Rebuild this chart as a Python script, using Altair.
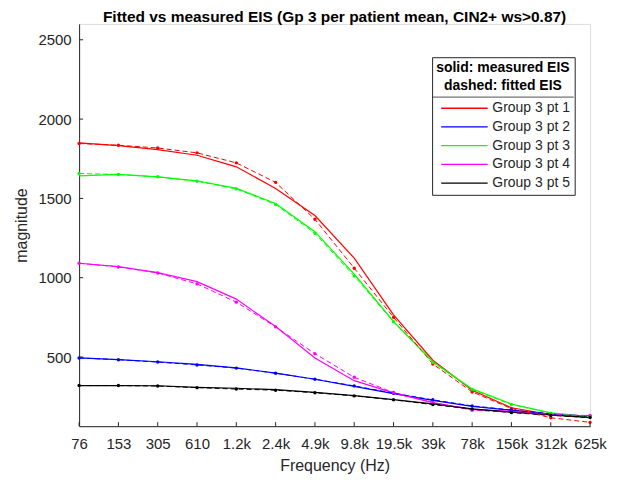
import altair as alt
import pandas as pd

freq_labels = ["76", "153", "305", "610", "1.2k", "2.4k", "4.9k", "9.8k",
               "19.5k", "39k", "78k", "156k", "312k", "625k"]
patients = ["Group 3 pt 1", "Group 3 pt 2", "Group 3 pt 3", "Group 3 pt 4", "Group 3 pt 5"]
colors = ["#FF0000", "#0000FF", "#00FF00", "#FF00FF", "#000000"]

measured = {
    "Group 3 pt 1": [1850, 1833, 1808, 1772, 1699, 1563, 1392, 1123, 766, 480, 290, 180, 137, 118],
    "Group 3 pt 2": [494, 483, 470, 453, 431, 399, 360, 315, 269, 227, 189, 164, 140, 125],
    "Group 3 pt 3": [1642, 1651, 1636, 1611, 1563, 1468, 1290, 1022, 724, 470, 299, 204, 148, 125],
    "Group 3 pt 4": [1091, 1070, 1032, 975, 865, 692, 494, 351, 274, 212, 168, 158, 138, 128],
    "Group 3 pt 5": [320, 320, 319, 309, 303, 294, 277, 257, 231, 204, 173, 152, 135, 120],
}
fitted = {
    "Group 3 pt 1": [1846, 1835, 1818, 1787, 1724, 1601, 1368, 1060, 750, 456, 280, 175, 117, 88],
    "Group 3 pt 2": [494, 483, 468, 450, 430, 398, 360, 318, 272, 230, 192, 166, 142, 126],
    "Group 3 pt 3": [1657, 1651, 1636, 1608, 1560, 1462, 1280, 1010, 722, 466, 296, 200, 146, 124],
    "Group 3 pt 4": [1091, 1068, 1030, 961, 846, 690, 521, 372, 276, 214, 165, 152, 136, 131],
    "Group 3 pt 5": [320, 320, 317, 307, 298, 291, 275, 255, 230, 200, 172, 150, 132, 118],
}
y_ticks = [500, 1000, 1500, 2000, 2500]

rows = []
for p in patients:
    for i, f in enumerate(freq_labels):
        rows.append({"freq": f, "idx": i, "patient": p, "kind": "measured", "value": measured[p][i]})
        rows.append({"freq": f, "idx": i, "patient": p, "kind": "fitted", "value": fitted[p][i]})
df = pd.DataFrame(rows)

W, H = 512.4, 403.4
FONT = "Liberation Sans"
AX = "#262626"

xscale = alt.Scale(type="point", padding=0, domain=freq_labels)

xenc = alt.X("freq:O", sort=freq_labels, scale=xscale,
             axis=alt.Axis(title="Frequency (Hz)", labelAngle=0, tickSize=0,
                           labelFontSize=15, labelPadding=10, labelColor=AX,
                           titleFontSize=16, titlePadding=6, titleColor=AX,
                           titleFontWeight="normal", domainColor=AX,
                           labelFont=FONT, titleFont=FONT, grid=False))
yenc = alt.Y("value:Q",
             scale=alt.Scale(domain=[64, 2600], nice=False, zero=False),
             axis=alt.Axis(title="magnitude", values=y_ticks, tickSize=0, format="d",
                           labelFontSize=15, labelPadding=8, labelColor=AX,
                           titleFontSize=16, titlePadding=8, titleColor=AX,
                           titleFontWeight="normal", domainColor=AX,
                           labelFont=FONT, titleFont=FONT, grid=False))
xplain = alt.X("freq:O", sort=freq_labels, scale=xscale)

color = alt.Color("patient:N",
                  scale=alt.Scale(domain=patients, range=colors),
                  legend=alt.Legend(
                      title=["solid: measured EIS", "dashed: fitted EIS"],
                      orient="none", legendX=354, legendY=33.4,
                      symbolType="stroke", symbolSize=46.6 ** 2,
                      symbolStrokeWidth=1.3, clipHeight=14, rowPadding=4.75,
                      symbolOffset=4.4,
                      labelFontSize=14, labelFont=FONT, labelColor=AX,
                      labelOffset=4,
                      titleFontSize=14, titleFont=FONT, titleFontWeight="bold",
                      titleColor="#000000", titleAnchor="middle", titleAlign="center",
                      titleLineHeight=17.7, titlePadding=8.5,
                      padding=4, strokeColor=AX, fillColor="transparent",
                      cornerRadius=0))

base = alt.Chart(df)

solid = base.transform_filter(alt.datum.kind == "measured").mark_line(
    strokeWidth=1.2).encode(x=xenc, y=yenc, color=color, detail="patient:N",
                            order=alt.Order("idx:Q"))

dashed = base.transform_filter(alt.datum.kind == "fitted").mark_line(
    strokeWidth=1.0, strokeDash=[5, 3]).encode(
    x=xplain, y="value:Q",
    color=alt.Color("patient:N", legend=None), detail="patient:N",
    order=alt.Order("idx:Q"))

dots = base.transform_filter(alt.datum.kind == "fitted").mark_circle(
    size=12, opacity=1).encode(
    x=xplain, y="value:Q",
    color=alt.Color("patient:N", legend=None))

ytick_df = pd.DataFrame({"value": y_ticks})
yticks_layer = alt.Chart(ytick_df).mark_rule(color=AX, strokeWidth=1).encode(
    y="value:Q", x=alt.value(0), x2=alt.value(4))

xtick_df = pd.DataFrame({"freq": freq_labels})
xticks_layer = alt.Chart(xtick_df).mark_rule(color=AX, strokeWidth=1).encode(
    x=xplain, y=alt.value(H), y2=alt.value(H - 4))

sep_df = pd.DataFrame({"s": [0]})
sep = alt.Chart(sep_df).mark_rule(color=AX, strokeWidth=0.8).encode(
    x=alt.value(354), x2=alt.value(354 + 142), y=alt.value(73.4))

chart = alt.layer(solid, dashed, dots, yticks_layer, xticks_layer, sep).properties(
    width=W, height=H,
    title=alt.TitleParams(
        "Fitted vs measured EIS (Gp 3 per patient mean, CIN2+ ws>0.87)",
        fontSize=15.5, fontWeight="bold", font=FONT, color="#000000",
        anchor="middle", offset=-2),
    autosize=alt.AutoSizeParams(type="none"),
    padding={"left": 71.3, "top": 15.3, "right": 20, "bottom": 50},
).configure_view(stroke=None).configure(background="white")

chart.save("out.html", embed_options={"renderer": "svg", "actions": False})
